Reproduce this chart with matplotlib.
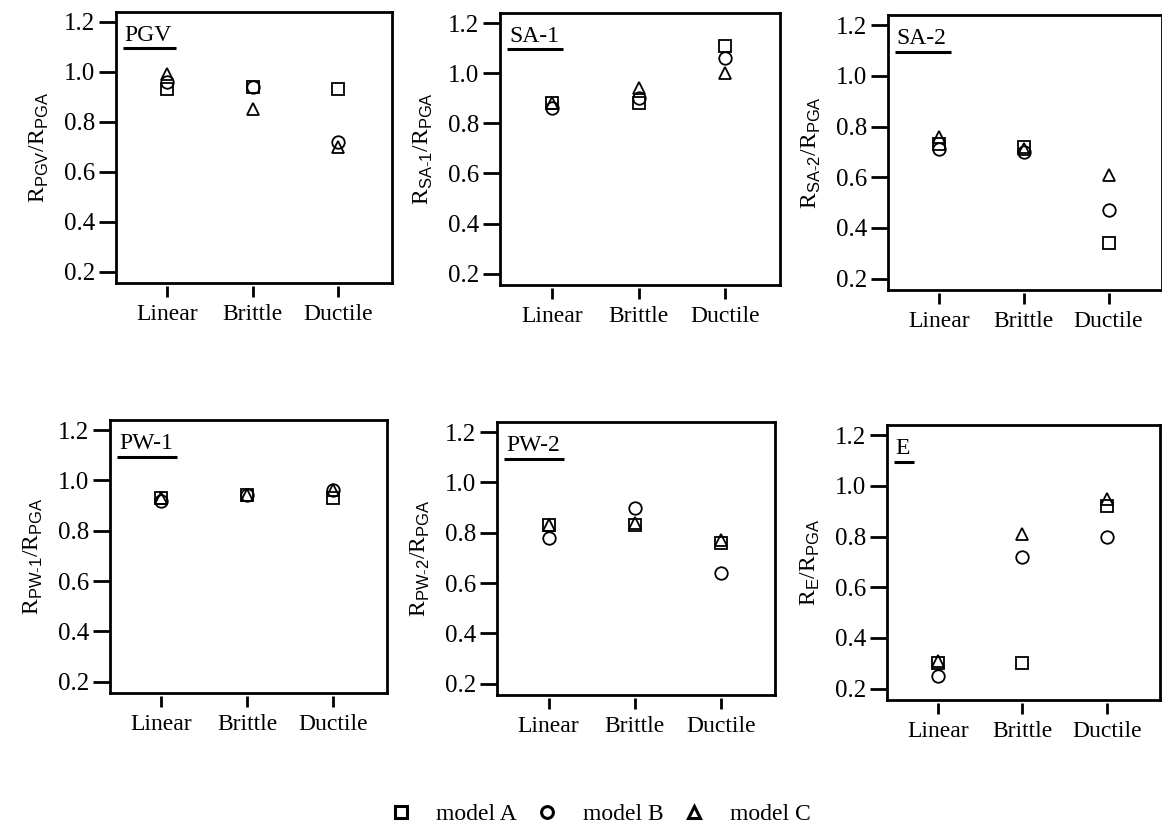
import matplotlib
matplotlib.use("Agg")
import matplotlib.pyplot as plt
from matplotlib.lines import Line2D

plt.rcParams['font.family'] = ['Liberation Serif', 'DejaVu Serif']
plt.rcParams['mathtext.fontset'] = 'custom'
plt.rcParams['mathtext.rm'] = 'Liberation Serif'
plt.rcParams['mathtext.sf'] = 'Liberation Sans'
fs = 17

categories = ["Linear", "Brittle", "Ductile"]
models = ["model A", "model B", "model C"]
panel_names = ["PGV", "SA-1", "SA-2", "PW-1", "PW-2", "E"]
ylabels = [r"$\mathrm{R}_{\mathsf{PGV}}/\mathrm{R}_{\mathsf{PGA}}$",
           r"$\mathrm{R}_{\mathsf{SA\text{-}1}}/\mathrm{R}_{\mathsf{PGA}}$",
           r"$\mathrm{R}_{\mathsf{SA\text{-}2}}/\mathrm{R}_{\mathsf{PGA}}$",
           r"$\mathrm{R}_{\mathsf{PW\text{-}1}}/\mathrm{R}_{\mathsf{PGA}}$",
           r"$\mathrm{R}_{\mathsf{PW\text{-}2}}/\mathrm{R}_{\mathsf{PGA}}$",
           r"$\mathrm{R}_{\mathsf{E}}/\mathrm{R}_{\mathsf{PGA}}$"]

# values: [Linear, Brittle, Ductile]
pgv_A = [0.93, 0.94, 0.93]
pgv_B = [0.96, 0.94, 0.72]
pgv_C = [0.99, 0.85, 0.70]
sa1_A = [0.88, 0.88, 1.11]
sa1_B = [0.86, 0.90, 1.06]
sa1_C = [0.88, 0.94, 1.00]
sa2_A = [0.73, 0.72, 0.34]
sa2_B = [0.71, 0.70, 0.47]
sa2_C = [0.76, 0.71, 0.61]
pw1_A = [0.93, 0.94, 0.93]
pw1_B = [0.92, 0.94, 0.96]
pw1_C = [0.93, 0.94, 0.96]
pw2_A = [0.83, 0.83, 0.76]
pw2_B = [0.78, 0.90, 0.64]
pw2_C = [0.83, 0.84, 0.77]
e_A = [0.30, 0.30, 0.92]
e_B = [0.25, 0.72, 0.80]
e_C = [0.31, 0.81, 0.95]

panel_data = [(pgv_A, pgv_B, pgv_C), (sa1_A, sa1_B, sa1_C), (sa2_A, sa2_B, sa2_C),
              (pw1_A, pw1_B, pw1_C), (pw2_A, pw2_B, pw2_C), (e_A, e_B, e_C)]
markers = ["s", "o", "^"]
msizes = [8.5, 9, 8.5]

W, H = 1162, 832
# axes boxes in pixels: left, right, top, bottom
boxes = [(116, 392, 12, 283), (500, 780, 13, 285), (888, 1162, 15, 290),
         (110, 387, 420, 693), (497, 775, 422, 695), (887, 1160, 425, 700)]

fig = plt.figure(figsize=(W / 100, H / 100), dpi=100)
axes = []
for i, (l, r, t, b) in enumerate(boxes):
    ax = fig.add_axes([l / W, 1 - b / H, (r - l) / W, (b - t) / H])
    axes.append(ax)
    xs = range(len(categories))
    for vals, m, ms in zip(panel_data[i], markers, msizes):
        ax.plot(xs, vals, linestyle="none", marker=m, markersize=ms,
                markerfacecolor="none", markeredgecolor="black", markeredgewidth=1.3)
    ax.set_xlim(-0.6, 2.63)
    ax.set_ylim(0.155, 1.24)
    ax.set_yticks([0.2, 0.4, 0.6, 0.8, 1.0, 1.2])
    ax.set_yticklabels(["0.2", "0.4", "0.6", "0.8", "1.0", "1.2"])
    ax.tick_params(axis="y", direction="out", length=12, width=2, pad=3, labelsize=18)
    ax.set_xticks([])
    for s in ax.spines.values():
        s.set_linewidth(2)
    sec = ax.secondary_xaxis(-0.012)
    sec.set_xticks(list(xs))
    sec.set_xticklabels(categories)
    sec.spines["bottom"].set_visible(False)
    sec.tick_params(axis="x", direction="out", length=8, width=2, pad=5, labelsize=fs)
    ax.set_ylabel(ylabels[i], fontsize=fs, labelpad=9)
    ax.text(0.032, 0.893, panel_names[i], transform=ax.transAxes, fontsize=fs,
            ha="left", va="baseline")

# underline the panel names
fig.canvas.draw()
for ax in axes:
    t = ax.texts[0]
    bb = t.get_window_extent().transformed(ax.transAxes.inverted())
    ax.plot([bb.x0 - 0.008, bb.x1 + 0.015], [0.866, 0.866], color="black", lw=2.2,
            transform=ax.transAxes, solid_capstyle="butt", clip_on=False)

handles = [Line2D([], [], linestyle="none", marker=m, markersize=ms - 0.5,
                  markerfacecolor="none", markeredgecolor="black", markeredgewidth=2.2)
           for m, ms in zip(markers, msizes)]
fig.legend(handles, models, loc="center", bbox_to_anchor=(0.516, 0.021), ncol=3,
           frameon=False, fontsize=fs, handlelength=1.0, handletextpad=1.0,
           columnspacing=0.8)

fig.savefig("out.png", dpi=100)
